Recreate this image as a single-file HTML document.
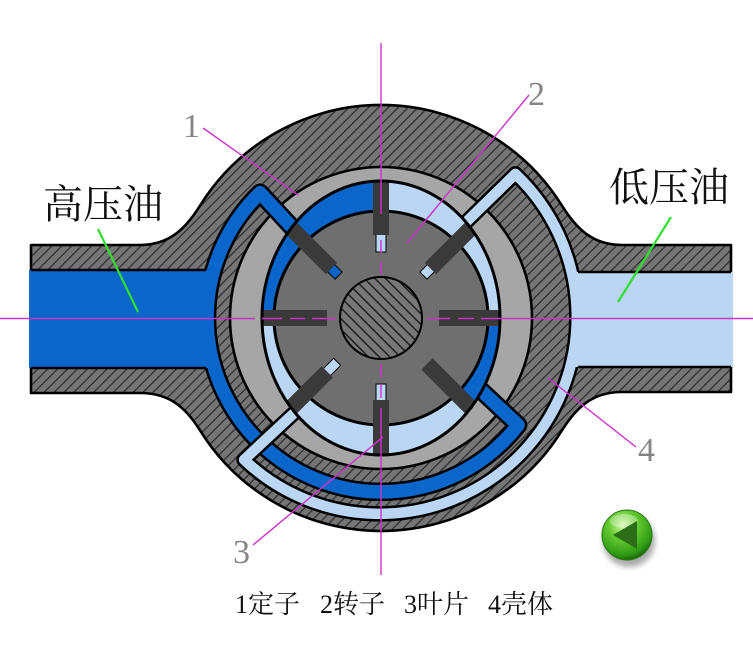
<!DOCTYPE html>
<html><head><meta charset="utf-8">
<style>
html,body{margin:0;padding:0;background:#fff;}
svg{display:block;}
</style></head>
<body>
<svg width="753" height="650" viewBox="0 0 753 650" xmlns="http://www.w3.org/2000/svg">
<defs>
<pattern id="h1" patternUnits="userSpaceOnUse" width="7" height="7" patternTransform="rotate(45)">
<rect width="7" height="7" fill="#757575"/>
<line x1="0.6" y1="0" x2="0.6" y2="7" stroke="#2a2a2a" stroke-width="1.2"/>
</pattern>
<pattern id="h2" patternUnits="userSpaceOnUse" width="7.5" height="7.5" patternTransform="rotate(-45)">
<rect width="7.5" height="7.5" fill="#777"/>
<line x1="0.7" y1="0" x2="0.7" y2="7.5" stroke="#1a1a1a" stroke-width="1.4"/>
</pattern>
<clipPath id="cav"><ellipse cx="381" cy="318" rx="119" ry="137"/></clipPath>
<radialGradient id="gb" cx="0.42" cy="0.3" r="0.7">
 <stop offset="0" stop-color="#d2f7a8"/>
 <stop offset="0.4" stop-color="#66cc33"/>
 <stop offset="0.85" stop-color="#2f9a14"/>
 <stop offset="1" stop-color="#1d6a0a"/>
</radialGradient>
<filter id="sh" x="-50%" y="-50%" width="200%" height="200%"><feGaussianBlur stdDeviation="3"/></filter>
</defs>

<!-- housing -->
<path d="M 31 245 L 140 245 C 170 245 186 228 200 205.7 A 213 213 0 0 1 562 205.7 C 576 228 592 245 622 245 L 731 245 L 731 392 L 622 392 C 592 392 576 408 562 430.3 A 213 213 0 0 1 200 430.3 C 186 408 170 393 140 393 L 31 393 Z" fill="url(#h1)" stroke="#000" stroke-width="2.6" stroke-linejoin="round"/>

<!-- stator -->
<circle cx="381" cy="318" r="151" fill="#a6a6a6" stroke="#000" stroke-width="2.6"/>

<!-- high pressure channel (blue) -->
<path d="M 300 236 L 260.1 192.8 A 174 174 0 1 0 518.1 425.1 L 470 380" fill="none" stroke="#000" stroke-width="18.5" stroke-linejoin="round"/>
<path d="M 300 236 L 260.1 192.8 A 174 174 0 1 0 518.1 425.1 L 470 380" fill="none" stroke="#0b66cc" stroke-width="13.5" stroke-linejoin="round"/>

<!-- low pressure channel (light blue) -->
<path d="M 458 230 L 515.4 173.9 A 197 197 0 1 1 244.1 459.7 L 306 402" fill="none" stroke="#000" stroke-width="15.5" stroke-linejoin="round"/>
<path d="M 458 230 L 515.4 173.9 A 197 197 0 1 1 244.1 459.7 L 306 402" fill="none" stroke="#bad6f2" stroke-width="10.5" stroke-linejoin="round"/>

<!-- pipes interior -->
<rect x="29" y="270" width="179" height="98" fill="#0b66cc"/>
<line x1="31" y1="270" x2="206" y2="270" stroke="#000" stroke-width="2.4"/>
<line x1="31" y1="368" x2="206" y2="368" stroke="#000" stroke-width="2.4"/>
<rect x="575" y="272" width="158" height="95" fill="#bad6f2"/>
<line x1="578" y1="272" x2="731" y2="272" stroke="#000" stroke-width="2.4"/>
<line x1="578" y1="367" x2="731" y2="367" stroke="#000" stroke-width="2.4"/>

<!-- cavity -->
<ellipse cx="381" cy="318" rx="119" ry="137" fill="#bad6f2"/>
<g clip-path="url(#cav)" fill="#0b66cc">
<path d="M381 318 L240 318 L240 170 L381 170Z"/>
<path d="M381 318 L520 318 L520 457Z"/>
</g>

<!-- rotor -->
<circle cx="381" cy="318" r="107" fill="#6f6f6f" stroke="#000" stroke-width="3"/>

<!-- vanes -->
<g transform="translate(381 318)" fill="#3a3a3a">
 <g transform="rotate(270)"><rect x="66" y="-5" width="18" height="10" fill="#bad6f2" stroke="#000" stroke-width="1"/><rect x="83" y="-8" width="53" height="16"/></g>
 <g transform="rotate(315)"><rect x="60" y="-5" width="11" height="10" fill="#bad6f2" stroke="#000" stroke-width="1"/><rect x="70" y="-8" width="57" height="16"/></g>
 <g transform="rotate(0)"><rect x="58" y="-8" width="61" height="16"/></g>
 <g transform="rotate(45)"><rect x="65" y="-8" width="62" height="16"/></g>
 <g transform="rotate(90)"><rect x="66" y="-5" width="17" height="10" fill="#bad6f2" stroke="#000" stroke-width="1"/><rect x="82" y="-8" width="55" height="16"/></g>
 <g transform="rotate(135)"><rect x="62" y="-5" width="15" height="10" fill="#bad6f2" stroke="#000" stroke-width="1"/><rect x="76" y="-8" width="51" height="16"/></g>
 <g transform="rotate(180)"><rect x="54" y="-8" width="65" height="16"/></g>
 <g transform="rotate(225)"><rect x="60" y="-5" width="11" height="10" fill="#0b66cc" stroke="#000" stroke-width="1"/><rect x="70" y="-8" width="57" height="16"/></g>
</g>

<!-- stator inner contour -->
<ellipse cx="381" cy="318" rx="119" ry="137" fill="none" stroke="#000" stroke-width="3"/>

<!-- shaft -->
<circle cx="381" cy="318" r="41" fill="url(#h2)" stroke="#000" stroke-width="2"/>

<!-- center lines -->
<g stroke="#cc33cc" stroke-width="1.4" fill="none">
 <line x1="381" y1="43" x2="381" y2="214"/>
 <line x1="381" y1="240" x2="381" y2="253"/>
 <line x1="381" y1="262" x2="381" y2="274"/>
 <line x1="381" y1="364" x2="381" y2="377"/>
 <line x1="381" y1="384" x2="381" y2="398"/>
 <line x1="381" y1="408" x2="381" y2="575"/>
 <line x1="0" y1="318.5" x2="255" y2="318.5"/>
 <line x1="262" y1="318.5" x2="282" y2="318.5"/>
 <line x1="290" y1="318.5" x2="305" y2="318.5"/>
 <line x1="312" y1="318.5" x2="336" y2="318.5"/>
 <line x1="427" y1="318.5" x2="450" y2="318.5"/>
 <line x1="458" y1="318.5" x2="474" y2="318.5"/>
 <line x1="481" y1="318.5" x2="753" y2="318.5"/>
 <!-- leaders -->
 <line x1="203" y1="128" x2="298" y2="195"/>
 <line x1="529" y1="95" x2="407" y2="243"/>
 <line x1="253" y1="545" x2="383" y2="437"/>
 <line x1="636" y1="447" x2="548" y2="378"/>
</g>

<!-- green leaders -->
<g stroke="#2ee02e" stroke-width="2.2">
 <line x1="98" y1="229" x2="138" y2="312"/>
 <line x1="671" y1="217" x2="618" y2="302"/>
</g>

<!-- labels -->
<g font-family="'Liberation Serif','Noto Serif CJK SC',serif" font-size="40" fill="#111">
 <text x="43" y="218">高压油</text>
 <text x="609" y="201">低压油</text>
</g>
<g font-family="'Liberation Serif',serif" font-size="34" fill="#858585">
 <text x="183" y="137">1</text>
 <text x="528" y="105">2</text>
 <text x="233" y="563">3</text>
 <text x="638" y="461">4</text>
</g>
<g font-family="'Liberation Serif','Noto Serif CJK SC',serif" font-size="26" fill="#111">
 <text x="235" y="613">1定子</text>
 <text x="320" y="613">2转子</text>
 <text x="404" y="613">3叶片</text>
 <text x="488" y="613">4壳体</text>
</g>

<!-- green button -->
<circle cx="629" cy="541" r="26" fill="#666" opacity="0.55" filter="url(#sh)"/>
<circle cx="627" cy="535" r="25" fill="url(#gb)" stroke="#2a7a12" stroke-width="1"/>
<ellipse cx="624" cy="521" rx="14" ry="7" fill="#fff" opacity="0.3"/>
<polygon points="613,535 637,521 637,549" fill="#2b6e17"/>
</svg>
</body></html>
